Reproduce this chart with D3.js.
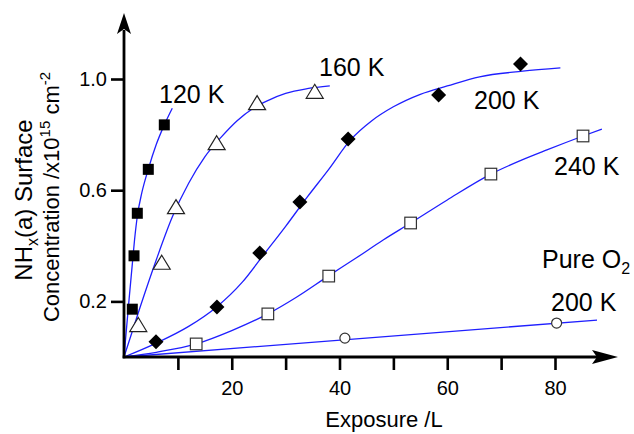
<html>
<head>
<script src="https://d3js.org/d3.v7.min.js"></script>
<style>
  body { margin: 0; background: #fff; }
  text { font-family: "Liberation Sans", Arial, sans-serif; fill: #000; }
</style>
</head>
<body>
<svg id="chart" width="634" height="434"></svg>
<script>
// measured points (exposure /L, coverage /1e15 cm-2)
const exp120 = [1.54, 1.86, 2.47, 4.51, 7.48];
const cov120 = [0.172, 0.364, 0.517, 0.675, 0.835];
const exp160 = [2.65, 7.0, 9.65, 17.2, 24.7, 35.4];
const cov160 = [0.115, 0.339, 0.539, 0.769, 0.913, 0.954];
const exp200 = [5.94, 17.25, 25.2, 32.65, 41.6, 58.4, 73.6];
const cov200 = [0.055, 0.18, 0.374, 0.558, 0.784, 0.942, 1.054];
const exp240 = [13.4, 26.7, 38.0, 53.2, 68.1, 85.2];
const cov240 = [0.047, 0.155, 0.291, 0.482, 0.658, 0.795];
const expO2 = [41.0, 80.3];
const covO2 = [0.068, 0.122];

// fitted curves
const fitX120 = [0, 0.5, 1.0, 1.5, 1.95, 2.5, 3.3, 4.5, 6.0, 7.48, 8.96];
const fitY120 = [0, 0.11, 0.22, 0.325, 0.42, 0.51, 0.59, 0.675, 0.765, 0.835, 0.895];
const fitX160 = [0, 3, 6, 9, 12, 15, 18, 21, 24, 27, 30, 34, 38.2];
const fitY160 = [0, 0.18, 0.35, 0.505, 0.625, 0.72, 0.79, 0.85, 0.895, 0.925, 0.948, 0.965, 0.975];
const fitX200 = [0, 6, 12, 17.2, 22, 26, 30, 34, 38, 42, 46, 50, 55, 60, 66, 74, 81];
const fitY200 = [0, 0.05, 0.11, 0.18, 0.27, 0.37, 0.47, 0.575, 0.675, 0.78, 0.85, 0.9, 0.945, 0.975, 1.008, 1.028, 1.04];
const fitX240 = [0, 6, 13.4, 20, 26.7, 32, 37.9, 43, 48.1, 53.2, 60, 68.1, 74, 78.5, 85.2, 88.7];
const fitY240 = [0, 0.017, 0.047, 0.095, 0.155, 0.215, 0.291, 0.355, 0.421, 0.482, 0.565, 0.658, 0.71, 0.745, 0.795, 0.82];
const fitXO2 = [0, 87.8];
const fitYO2 = [0, 0.133];

const xTicks = [10, 20, 30, 40, 50, 60, 70, 80];
const xLabelled = [20, 40, 60, 80];
const yTicks = [0.2, 0.6, 1.0];

const svg = d3.select("#chart");
const x = d3.scaleLinear().domain([0, 80]).range([124, 555]);
const y = d3.scaleLinear().domain([0, 1]).range([357, 79]);
const blue = "#1f1fff";

// curves
const line = d3.line().x(d => x(d[0])).y(d => y(d[1])).curve(d3.curveMonotoneX);
const fits = [[fitX120, fitY120], [fitX160, fitY160], [fitX200, fitY200], [fitX240, fitY240], [fitXO2, fitYO2]];
svg.append("g").selectAll("path")
  .data(fits)
  .join("path")
  .attr("d", f => line(d3.zip(f[0], f[1])))
  .attr("fill", "none")
  .attr("stroke", blue)
  .attr("stroke-width", 1.3);

// axes
const xAxis = svg.append("g")
  .attr("transform", `translate(0,${y(0)})`)
  .call(d3.axisBottom(x).tickValues(xTicks).tickSize(13).tickPadding(6)
    .tickFormat(d => xLabelled.includes(d) ? d : ""));
const yAxis = svg.append("g")
  .attr("transform", `translate(${x(0)},0)`)
  .call(d3.axisLeft(y).tickValues(yTicks).tickSize(13).tickPadding(4).tickFormat(d3.format(".1f")));
[xAxis, yAxis].forEach(a => {
  a.select(".domain").remove();
  a.selectAll("line").attr("stroke", "#000").attr("stroke-width", 2.6);
  a.selectAll("text").style("font-size", "20px").attr("fill", "#000")
    .style("font-family", '"Liberation Sans", Arial, sans-serif');
});
xAxis.selectAll("text").attr("dy", "0.95em");

const x0 = x(0), y0 = y(0);
svg.append("line").attr("x1", x0 - 1.3).attr("x2", 600).attr("y1", y0).attr("y2", y0)
  .attr("stroke", "#000").attr("stroke-width", 2.8);
svg.append("line").attr("x1", x0).attr("x2", x0).attr("y1", y0 + 1.3).attr("y2", 30)
  .attr("stroke", "#000").attr("stroke-width", 2.8);
svg.append("path").attr("d", `M618,${y0} L592,${y0 - 7} L597,${y0} L592,${y0 + 7} Z`).attr("fill", "#000");
svg.append("path").attr("d", `M${x0},13 L${x0 - 7},34 L${x0},29 L${x0 + 7},34 Z`).attr("fill", "#000");

// markers
const mk = svg.append("g");
mk.selectAll(".s120").data(d3.zip(exp120, cov120)).join("rect")
  .attr("x", d => x(d[0]) - 5.5).attr("y", d => y(d[1]) - 5.5)
  .attr("width", 11).attr("height", 11).attr("fill", "#000");
mk.selectAll(".t160").data(d3.zip(exp160, cov160)).join("path")
  .attr("d", d => {
    const cx = x(d[0]), cy = y(d[1]);
    return `M${cx},${cy - 7.5} L${cx + 8.5},${cy + 6.5} L${cx - 8.5},${cy + 6.5} Z`;
  })
  .attr("fill", "#fff").attr("stroke", "#222").attr("stroke-width", 1.2);
mk.selectAll(".d200").data(d3.zip(exp200, cov200)).join("path")
  .attr("d", d => {
    const cx = x(d[0]), cy = y(d[1]);
    return `M${cx},${cy - 7.5} L${cx + 7.5},${cy} L${cx},${cy + 7.5} L${cx - 7.5},${cy} Z`;
  })
  .attr("fill", "#000");
mk.selectAll(".s240").data(d3.zip(exp240, cov240)).join("rect")
  .attr("x", d => x(d[0]) - 5.8).attr("y", d => y(d[1]) - 5.8)
  .attr("width", 11.6).attr("height", 11.6)
  .attr("fill", "#fff").attr("stroke", "#333").attr("stroke-width", 1.2);
mk.selectAll(".cO2").data(d3.zip(expO2, covO2)).join("circle")
  .attr("cx", d => x(d[0])).attr("cy", d => y(d[1])).attr("r", 5)
  .attr("fill", "#fff").attr("stroke", "#333").attr("stroke-width", 1.2);

// series labels
const lab = (tx, ty, s) => svg.append("text").attr("x", tx).attr("y", ty)
  .style("font-size", "25px").text(s);
lab(159, 103, "120 K");
lab(319, 76, "160 K");
lab(474, 109, "200 K");
lab(554, 175, "240 K");
const pure = lab(542, 268, "Pure O");
pure.append("tspan").attr("dy", 6).style("font-size", "16px").text("2");
lab(551, 311, "200 K");

// axis titles
svg.append("text").attr("x", 384).attr("y", 427).attr("text-anchor", "middle")
  .style("font-size", "22px").text("Exposure /L");

const t1 = svg.append("text").attr("transform", "translate(32,200) rotate(-90)")
  .attr("text-anchor", "middle").style("font-size", "24px");
t1.append("tspan").text("NH");
t1.append("tspan").attr("dy", 6).style("font-size", "16px").text("x");
t1.append("tspan").attr("dy", -6).text("(a) Surface");

const t2 = svg.append("text").attr("transform", "translate(59,197) rotate(-90)")
  .attr("text-anchor", "middle").style("font-size", "22px");
t2.append("tspan").text("Concentration /x10");
t2.append("tspan").attr("dy", -9).style("font-size", "15px").text("15");
t2.append("tspan").attr("dy", 9).text(" cm");
t2.append("tspan").attr("dy", -9).style("font-size", "15px").text("-2");
</script>
</body>
</html>
